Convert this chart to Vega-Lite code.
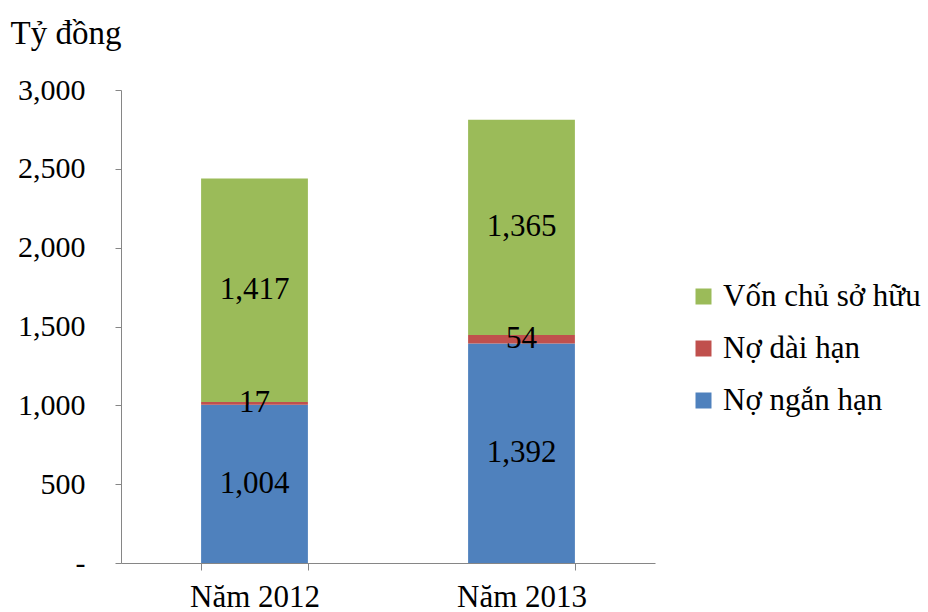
{
  "$schema": "https://vega.github.io/schema/vega-lite/v6.json",
  "width": 534,
  "height": 473,
  "autosize": "none",
  "padding": {"left": 121, "top": 90, "right": 273, "bottom": 49},
  "background": "white",
  "config": {
    "font": "Liberation Serif",
    "view": {"stroke": null},
    "axis": {"labelFont": "Liberation Serif", "titleFont": "Liberation Serif"},
    "legend": {"labelFont": "Liberation Serif"},
    "text": {"font": "Liberation Serif"}
  },
  "data": {
    "values": [
      {"year": "Năm 2012", "type": "Nợ ngắn hạn", "k": 1, "value": 1004},
      {"year": "Năm 2012", "type": "Nợ dài hạn", "k": 2, "value": 17},
      {"year": "Năm 2012", "type": "Vốn chủ sở hữu", "k": 3, "value": 1417},
      {"year": "Năm 2013", "type": "Nợ ngắn hạn", "k": 1, "value": 1392},
      {"year": "Năm 2013", "type": "Nợ dài hạn", "k": 2, "value": 54},
      {"year": "Năm 2013", "type": "Vốn chủ sở hữu", "k": 3, "value": 1365}
    ]
  },
  "transform": [
    {"stack": "value", "groupby": ["year"], "sort": [{"field": "k", "order": "ascending"}], "as": ["v0", "v1"]},
    {"calculate": "(datum.v0 + datum.v1) / 2", "as": "mid"}
  ],
  "encoding": {
    "x": {
      "field": "year", "type": "nominal",
      "scale": {"paddingInner": 0.6, "paddingOuter": 0.3},
      "axis": {
        "title": null, "labelAngle": 0, "labelFontSize": 31, "labelColor": "black",
        "labelFont": "Liberation Serif",
        "labelPadding": 12, "tickBand": "extent", "tickSize": 7,
        "domainColor": "#868686", "tickColor": "#868686"
      }
    }
  },
  "layer": [
    {
      "mark": {"type": "bar"},
      "encoding": {
        "y": {
          "field": "v0", "type": "quantitative",
          "scale": {"domain": [0, 3000], "nice": false},
          "axis": {
            "values": [0, 500, 1000, 1500, 2000, 2500, 3000],
            "labelExpr": "datum.value == 0 ? '-' : format(datum.value, ',')",
            "grid": false, "labelFontSize": 30, "labelColor": "black",
            "labelFont": "Liberation Serif",
            "labelPadding": 30, "tickSize": 6,
            "domainColor": "#868686", "tickColor": "#868686",
            "title": "Tỷ đồng", "titleAngle": 0, "titleX": -111, "titleY": -57,
            "titleAlign": "left", "titleBaseline": "middle", "titleFont": "Liberation Serif",
            "titleFontSize": 33, "titleFontWeight": "normal", "titleColor": "black"
          }
        },
        "y2": {"field": "v1"},
        "color": {
          "field": "type", "type": "nominal",
          "scale": {
            "domain": ["Vốn chủ sở hữu", "Nợ dài hạn", "Nợ ngắn hạn"],
            "range": ["#9BBB59", "#C0504D", "#4F81BD"]
          },
          "legend": {
            "title": null, "orient": "none", "legendX": 567, "legendY": 191,
            "symbolType": "square", "symbolSize": 256, "symbolStrokeWidth": 0,
            "labelFont": "Liberation Serif", "labelLimit": 400,
            "labelFontSize": 31, "labelColor": "black", "rowPadding": 20,
            "labelOffset": 4
          }
        }
      }
    },
    {
      "mark": {"type": "text", "fontSize": 31, "color": "black", "baseline": "middle", "font": "Liberation Serif"},
      "encoding": {
        "y": {"field": "mid", "type": "quantitative"},
        "text": {"field": "value", "type": "quantitative", "format": ","}
      }
    }
  ]
}
